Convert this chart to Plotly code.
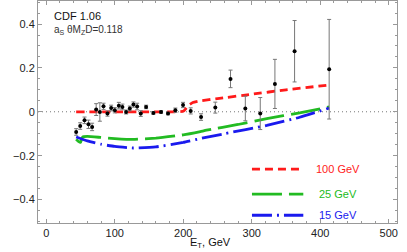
import plotly.graph_objects as go

# data points (E_T, ratio, error)
et = [43.7, 49.6, 55.9, 61.7, 67.0, 72.9, 78.3, 83.6, 89.4, 94.8, 100.1, 106.0, 111.2,
      116.6, 122.0, 127.3, 132.7, 138.0, 145.8, 156.4, 167.6, 177.8, 188.5, 199.7, 210.9,
      226.0, 246.8, 269.0, 290.6, 312.4, 333.8, 362.5, 413.0]
val = [-0.092, -0.065, -0.039, -0.057, -0.069, 0.010, -0.001, 0.025, -0.008, 0.017, 0.007,
       0.028, 0.022, -0.001, 0.015, 0.033, 0.024, -0.008, 0.022, -0.005, -0.001, -0.008,
       0.007, 0.031, 0.004, -0.024, 0.019, 0.150, 0.015, -0.008, 0.127, 0.276, 0.194]
err = [0.015, 0.015, 0.015, 0.019, 0.017, 0.027, 0.042, 0.014, 0.012, 0.013, 0.012, 0.015,
       0.013, 0.009, 0.011, 0.012, 0.015, 0.013, 0.008, 0.006, 0.006, 0.006, 0.010, 0.012,
       0.014, 0.015, 0.025, 0.040, 0.056, 0.073, 0.112, 0.140, 0.227]

# theory curves
x100 = [43.7, 100, 150, 200, 204, 208, 214, 225, 250, 300, 350, 413]
y100 = [0.0, 0.0, 0.0, 0.002, 0.015, 0.03, 0.042, 0.05, 0.06, 0.08, 0.1, 0.122]

x25 = [43.7, 47, 50, 53, 60, 80, 100, 127, 160, 200, 225, 234, 280, 322, 370, 413]
y25 = [-0.125, -0.135, -0.14, -0.115, -0.112, -0.117, -0.122, -0.126, -0.12, -0.105,
       -0.09, -0.084, -0.058, -0.031, -0.005, 0.022]

x15 = [43.7, 60, 80, 100, 127, 160, 200, 225, 260, 322, 370, 413]
y15 = [-0.115, -0.133, -0.148, -0.158, -0.165, -0.16, -0.14, -0.122, -0.1, -0.062, -0.025, 0.017]

labels = ["100 GeV", "25 GeV", "15 GeV"]
colors = ["#ff1a1a", "#22bb22", "#1a1aee"]
dashes = ["8px,5px", "30px,7px", "20px,5px,2px,5px"]

FONT = "Liberation Sans, Arial, sans-serif"

fig = go.Figure()

curves = [(x100, y100), (x25, y25), (x15, y15)]
for (xs, ys), c, d in zip(curves, colors, dashes):
    fig.add_trace(go.Scatter(x=xs, y=ys, mode="lines",
                             line=dict(color=c, width=2.8, dash=d, shape="spline", smoothing=0.4),
                             showlegend=False, hoverinfo="skip"))

fig.add_trace(go.Scatter(x=et, y=val, mode="markers",
                         marker=dict(color="black", size=4),
                         error_y=dict(type="data", array=err, color="#777777", thickness=1, width=2),
                         showlegend=False))

# zero dotted line
fig.add_shape(type="line", xref="paper", yref="y", x0=0, x1=1, y0=0, y1=0,
              line=dict(color="#777777", width=1, dash="1px,3px"), layer="below")

# custom legend
ly = [0.243, 0.130, 0.035]
for lab, c, d, yy in zip(labels, colors, dashes, ly):
    fig.add_shape(type="line", xref="paper", yref="paper", x0=0.596, x1=0.739, y0=yy, y1=yy,
                  line=dict(color=c, width=2.8, dash=d))
    fig.add_annotation(xref="paper", yref="paper", x=0.836, y=yy, text=lab, showarrow=False,
                       xanchor="center", yanchor="middle",
                       font=dict(color=c, size=11, family=FONT))

fig.add_annotation(xref="paper", yref="paper", x=0.039, y=0.933, text="CDF 1.06", showarrow=False,
                   xanchor="left", yanchor="middle",
                   font=dict(color="#111", size=11, family=FONT))
fig.add_annotation(xref="paper", yref="paper", x=0.039, y=0.868,
                   text="a<sub>S</sub> θM<sub>Z</sub>D=0.118", showarrow=False,
                   xanchor="left", yanchor="middle",
                   font=dict(color="#333", size=10, family=FONT))
fig.add_annotation(xref="paper", yref="paper", x=0.48, y=-0.05, text="E<sub>T</sub>, GeV",
                   showarrow=False, xanchor="center", yanchor="top",
                   font=dict(color="#111", size=11, family=FONT))

axis_common = dict(showgrid=False, zeroline=False, showline=True, linecolor="#999999",
                   linewidth=1, mirror="ticks", ticks="inside", ticklen=4, tickcolor="#999999",
                   tickfont=dict(size=11, color="#222", family=FONT))

fig.update_xaxes(range=[-12, 512], dtick=100, tick0=0,
                 minor=dict(dtick=20, ticks="inside", ticklen=2, tickcolor="#999999"),
                 **axis_common)
fig.update_yaxes(range=[-0.507, 0.505], dtick=0.2, tick0=0, tickformat="~g",
                 minor=dict(dtick=0.05, ticks="inside", ticklen=2, tickcolor="#999999"),
                 **axis_common)

fig.update_layout(width=407, height=252, margin=dict(l=38, r=10, t=1, b=29),
                  paper_bgcolor="white", plot_bgcolor="white")

fig.write_html("out.html", config={"displayModeBar": False},
               post_script="document.body.style.margin='0';document.body.style.overflow='hidden';")
